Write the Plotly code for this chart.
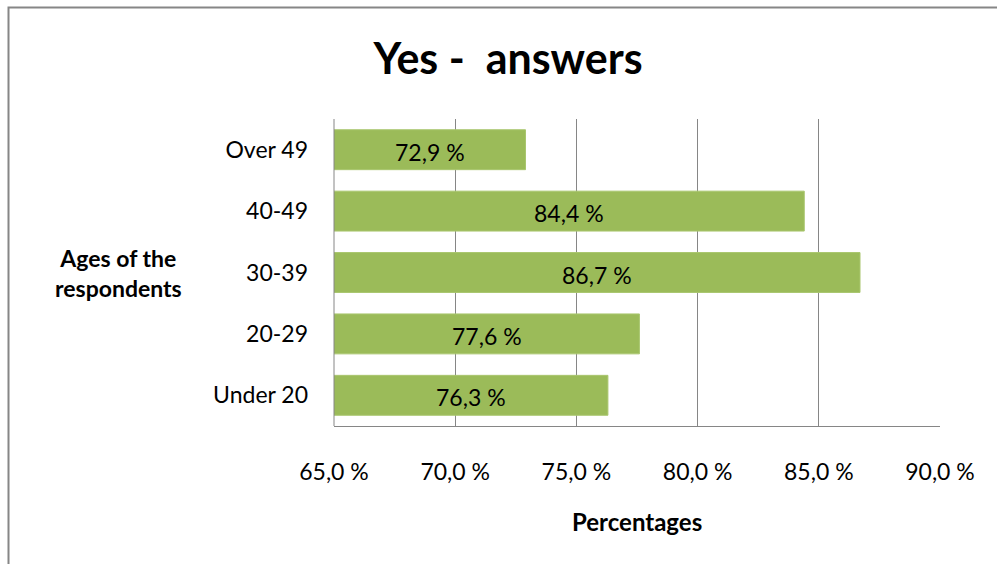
import plotly.graph_objects as go

categories = ["Under 20", "20-29", "30-39", "40-49", "Over 49"]
values = [76.3, 77.6, 86.7, 84.4, 72.9]
tick_values = [65, 70, 75, 80, 85, 90]
tick_labels = ["65,0 %", "70,0 %", "75,0 %", "80,0 %", "85,0 %", "90,0 %"]
title_text = "Yes -\u00a0 answers"
x_title = "Percentages"
y_title = "Ages of the<br>respondents"
x_range = [65, 90]

W, H = 997, 564
L, R, T, B = 334, 57, 119, 138
pw, ph = W - L - R, H - T - B

def px_x(p):
    return (p - L) / pw

def px_y(p):
    return (H - B - p) / ph

FONT = "Lato, 'Open Sans', sans-serif"

fig = go.Figure(go.Bar(
    y=categories,
    x=values,
    orientation="h",
    marker=dict(color="#9BBB59", line=dict(color="#A9C66E", width=1)),
    hoverinfo="skip",
))

# data labels centred on the visible part of each bar
label_annotations = [
    dict(x=(x_range[0] + v) / 2, y=c, xref="x", yref="y",
         text=f"{v:.1f} %".replace(".", ","), showarrow=False,
         xanchor="center", yanchor="middle", yshift=-2,
         font=dict(family=FONT, size=23, color="#000000"))
    for c, v in zip(categories, values)
]

fig.update_layout(
    width=W, height=H,
    margin=dict(l=L, r=R, t=T, b=B),
    paper_bgcolor="white",
    plot_bgcolor="white",
    bargap=0.35,
    showlegend=False,
    title=dict(text=f"<b>{title_text}</b>", x=508 / W, xanchor="center",
               y=1 - 59 / H, yanchor="middle", yref="container",
               font=dict(family=FONT, size=43, color="#000000")),
    xaxis=dict(range=x_range, tickvals=tick_values, ticktext=tick_labels,
               showgrid=True, gridcolor="#868686", gridwidth=1,
               showline=True, linecolor="#868686", linewidth=1,
               zeroline=False, ticks="", ticklabelstandoff=25,
               tickfont=dict(family=FONT, size=23, color="#000000")),
    yaxis=dict(showgrid=False, showline=False, zeroline=False, ticks="",
               ticklabelstandoff=25,
               tickfont=dict(family=FONT, size=23, color="#000000")),
    annotations=label_annotations + [
        dict(text=f"<b>{y_title}</b>", xref="paper", yref="paper",
             x=px_x(118), y=px_y(273), xanchor="center", yanchor="middle",
             showarrow=False, align="center",
             font=dict(family=FONT, size=23, color="#000000")),
        dict(text=f"<b>{x_title}</b>", xref="paper", yref="paper",
             x=px_x(637), y=px_y(521), xanchor="center", yanchor="middle",
             showarrow=False,
             font=dict(family=FONT, size=24, color="#000000")),
    ],
    shapes=[
        dict(type="rect", xref="paper", yref="paper",
             x0=px_x(8.5), x1=px_x(1010), y0=px_y(580), y1=px_y(7.5),
             line=dict(color="#868686", width=2), fillcolor="rgba(0,0,0,0)",
             layer="below"),
        dict(type="line", xref="paper", yref="paper",
             x0=px_x(334), x1=px_x(334), y0=0, y1=1,
             line=dict(color="#868686", width=1)),
    ],
)

fig.write_html("out.html")
